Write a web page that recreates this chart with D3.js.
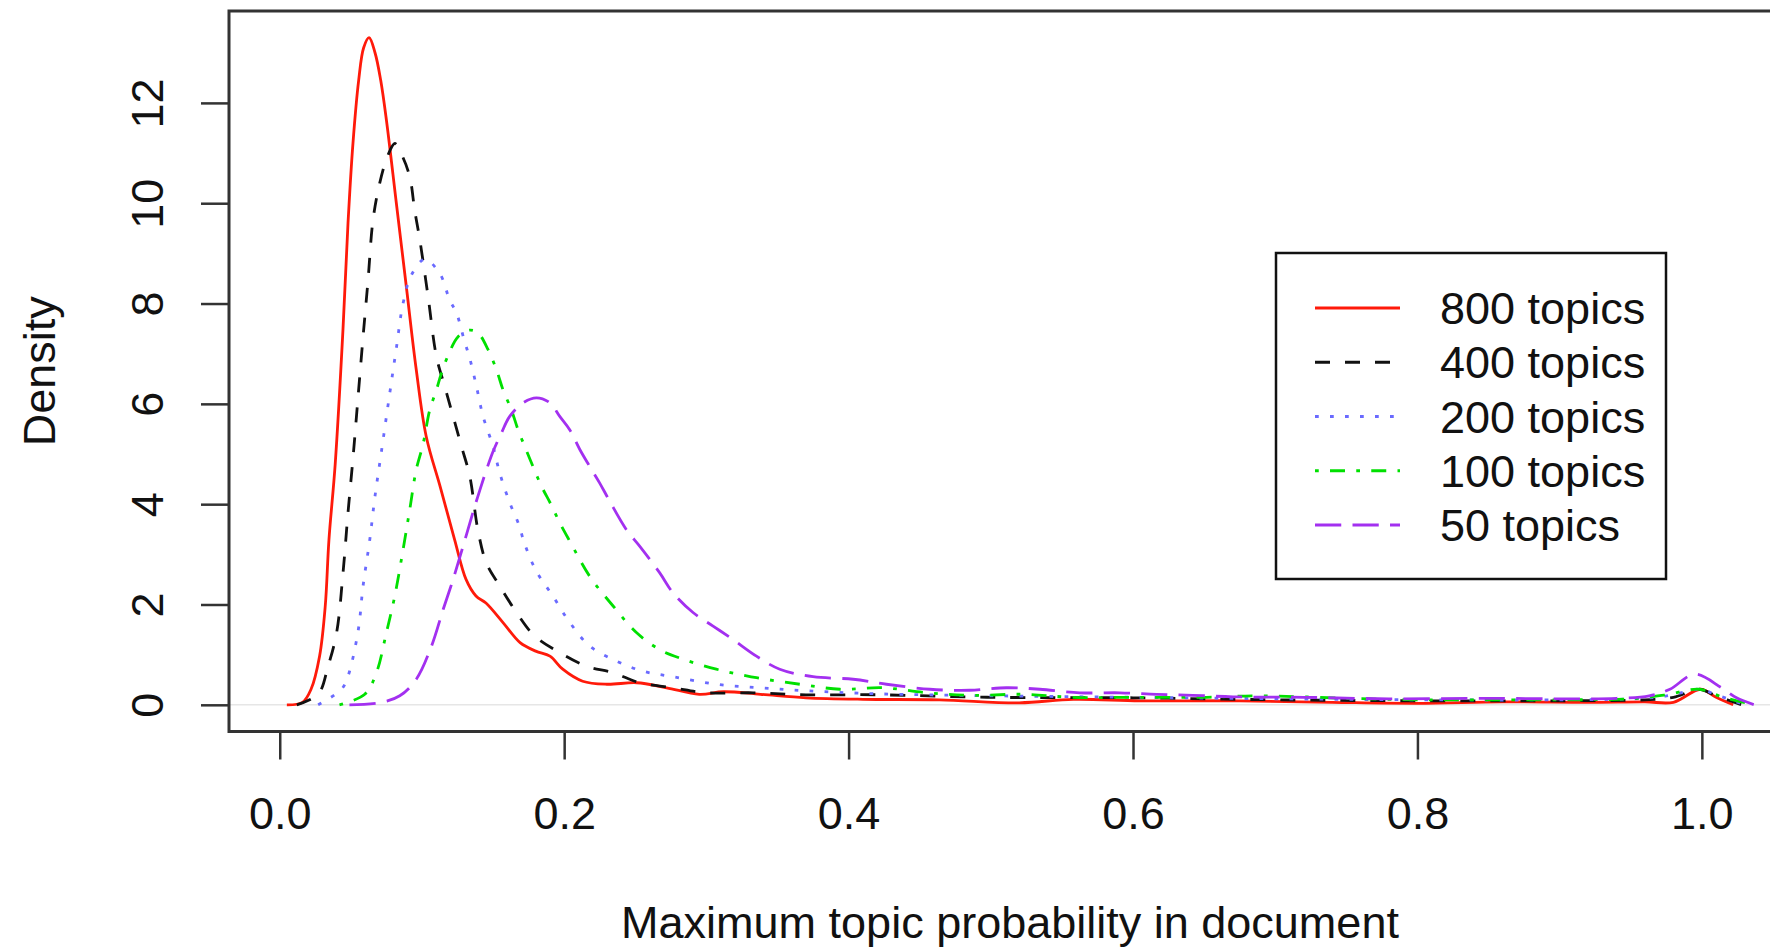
<!DOCTYPE html>
<html lang="en">
<head>
  <meta charset="utf-8">
  <script type="text/javascript" src="https://d3js.org/d3.v7.min.js"></script>
  <style>
    body { margin: 0; background: #fff; }
    svg text { font-family: "Liberation Sans", Arial, sans-serif; fill: #111; }
  </style>
</head>
<body>
  <div class="chart"></div>

<script type="text/javascript">

  // density estimates (x = max topic probability, y = density)
  const x800 = [0.005, 0.016, 0.022, 0.028, 0.032, 0.0346, 0.039, 0.0445, 0.048, 0.0515, 0.0555, 0.059, 0.0628, 0.067, 0.071, 0.075, 0.082, 0.089, 0.096, 0.103, 0.113, 0.123, 0.131, 0.138, 0.145, 0.157, 0.169, 0.18, 0.19, 0.199, 0.213, 0.23, 0.251, 0.272, 0.295, 0.312, 0.338, 0.37, 0.41, 0.464, 0.52, 0.558, 0.605, 0.675, 0.74, 0.8, 0.86, 0.92, 0.96, 0.98, 0.999, 1.01, 1.022];
  const y800 = [0, 0.05, 0.31, 0.97, 1.97, 3.29, 4.8, 7.5, 9.6, 11.2, 12.45, 13.1, 13.3, 13.0, 12.45, 11.66, 10.0, 8.34, 6.68, 5.35, 4.33, 3.29, 2.5, 2.17, 2.03, 1.64, 1.24, 1.07, 0.97, 0.71, 0.47, 0.41, 0.44, 0.34, 0.21, 0.26, 0.21, 0.14, 0.11, 0.1, 0.04, 0.11, 0.08, 0.08, 0.05, 0.03, 0.06, 0.05, 0.06, 0.05, 0.31, 0.15, 0];

  const x400 = [0.012, 0.027, 0.034, 0.04, 0.0445, 0.048, 0.0516, 0.0551, 0.0586, 0.0621, 0.0656, 0.0703, 0.076, 0.0809, 0.086, 0.0914, 0.0949, 0.0985, 0.1043, 0.1102, 0.116, 0.1219, 0.1278, 0.1336, 0.1395, 0.1453, 0.1547, 0.1665, 0.1793, 0.1969, 0.2157, 0.2344, 0.2532, 0.2766, 0.3, 0.333, 0.37, 0.42, 0.5, 0.6, 0.7, 0.8, 0.9, 0.96, 0.98, 0.998, 1.01, 1.028];
  const y400 = [0, 0.21, 0.77, 1.44, 2.63, 3.83, 4.95, 6.15, 7.34, 8.47, 9.67, 10.4, 10.95, 11.19, 10.95, 10.53, 9.86, 9.27, 8.14, 6.94, 6.35, 5.75, 5.15, 4.56, 3.46, 2.83, 2.37, 1.84, 1.37, 1.04, 0.77, 0.64, 0.44, 0.34, 0.24, 0.24, 0.2, 0.2, 0.15, 0.14, 0.1, 0.08, 0.08, 0.1, 0.15, 0.31, 0.18, 0];

  const x200 = [0.027, 0.0434, 0.048, 0.0551, 0.0586, 0.0633, 0.0668, 0.0715, 0.0774, 0.082, 0.0867, 0.0926, 0.102, 0.1125, 0.1195, 0.1243, 0.13, 0.1336, 0.1383, 0.143, 0.15, 0.1547, 0.1617, 0.168, 0.1723, 0.1805, 0.192, 0.204, 0.218, 0.2368, 0.2555, 0.2766, 0.307, 0.338, 0.37, 0.42, 0.5, 0.6, 0.7, 0.8, 0.9, 0.96, 0.98, 0.998, 1.01, 1.03];
  const y200 = [0, 0.31, 0.57, 1.47, 2.37, 3.29, 4.12, 5.05, 6.22, 7.11, 8.0, 8.57, 8.88, 8.6, 8.07, 7.81, 7.24, 6.91, 6.35, 5.75, 5.15, 4.62, 4.03, 3.6, 3.2, 2.66, 2.17, 1.64, 1.17, 0.87, 0.67, 0.56, 0.41, 0.34, 0.28, 0.22, 0.18, 0.15, 0.12, 0.1, 0.1, 0.13, 0.2, 0.31, 0.2, 0];

  const x100 = [0.042, 0.0598, 0.068, 0.075, 0.0809, 0.0867, 0.0914, 0.096, 0.1008, 0.1055, 0.1102, 0.1137, 0.1195, 0.1254, 0.1336, 0.1395, 0.1465, 0.1524, 0.157, 0.1629, 0.1676, 0.1723, 0.1781, 0.184, 0.191, 0.1969, 0.204, 0.218, 0.2344, 0.2508, 0.2672, 0.2836, 0.307, 0.3352, 0.3657, 0.394, 0.4243, 0.4548, 0.4876, 0.5225, 0.5577, 0.6048, 0.6517, 0.6868, 0.75, 0.8, 0.85, 0.9, 0.95, 0.975, 0.998, 1.015, 1.037];
  const y100 = [0, 0.21, 0.64, 1.44, 2.17, 3.09, 3.89, 4.69, 5.2, 5.88, 6.28, 6.61, 7.04, 7.34, 7.47, 7.41, 7.08, 6.68, 6.28, 5.88, 5.48, 5.15, 4.75, 4.36, 3.98, 3.63, 3.26, 2.56, 1.97, 1.44, 1.1, 0.91, 0.71, 0.54, 0.41, 0.31, 0.34, 0.24, 0.19, 0.21, 0.15, 0.15, 0.15, 0.18, 0.13, 0.1, 0.1, 0.1, 0.12, 0.2, 0.31, 0.15, 0];

  const x50 = [0.049, 0.0703, 0.0844, 0.096, 0.1067, 0.1149, 0.1219, 0.1289, 0.136, 0.1406, 0.1453, 0.15, 0.1559, 0.1617, 0.1711, 0.1805, 0.19, 0.1969, 0.204, 0.211, 0.218, 0.225, 0.232, 0.2438, 0.2532, 0.2672, 0.2766, 0.2906, 0.3047, 0.3188, 0.3352, 0.3516, 0.375, 0.4032, 0.4266, 0.4571, 0.4852, 0.511, 0.5345, 0.5626, 0.5907, 0.6165, 0.642, 0.6704, 0.72, 0.78, 0.85, 0.9, 0.94, 0.963, 0.9775, 0.995, 1.0138, 1.0244, 1.037];
  const y50 = [0, 0.04, 0.18, 0.51, 1.17, 1.9, 2.5, 3.16, 3.85, 4.27, 4.68, 5.05, 5.42, 5.75, 6.02, 6.12, 6.02, 5.75, 5.48, 5.09, 4.75, 4.42, 4.06, 3.49, 3.16, 2.63, 2.23, 1.84, 1.57, 1.3, 0.97, 0.71, 0.56, 0.51, 0.41, 0.31, 0.29, 0.34, 0.31, 0.24, 0.24, 0.21, 0.19, 0.16, 0.15, 0.12, 0.13, 0.12, 0.13, 0.18, 0.31, 0.61, 0.34, 0.14, 0];

  const labels = ['800 topics', '400 topics', '200 topics', '100 topics', '50 topics'];
  const colors = ['#ff1a0a', '#111111', '#6a6aff', '#00e000', '#a330f0'];
  const dashes = ['none', '15,15', '3.75,11.25', '3.75,11.25,15,11.25', '26.25,11.25'];
  const xTicks = [0, 0.2, 0.4, 0.6, 0.8, 1.0];
  const yTicks = [0, 2, 4, 6, 8, 10, 12];

  const series = [[x800, y800], [x400, y400], [x200, y200], [x100, y100], [x50, y50]].map((s, i) => ({
    label: labels[i],
    color: colors[i],
    dash: dashes[i],
    points: s[0].map((v, j) => ({ x: v, y: s[1][j] }))
  }));

  const W = 1770, H = 951;
  const box = { left: 229, right: 1791, top: 11, bottom: 731.5 };

  const svg = d3.select('.chart')
    .append('svg')
    .attr('width', W)
    .attr('height', H);

  // R style limits: range of the first density plus 4%
  const xr = d3.extent(x800), yr = [0, d3.max(y800)];
  const xPad = 0.04 * (xr[1] - xr[0]), yPad = 0.04 * (yr[1] - yr[0]);

  const xScale = d3.scaleLinear()
    .domain([xr[0] - xPad, xr[1] + xPad])
    .range([box.left, box.right]);

  const yScale = d3.scaleLinear()
    .domain([yr[0] - yPad, yr[1] + yPad])
    .range([box.bottom, box.top]);

  // zero line
  svg.append('line')
    .attr('x1', box.left).attr('x2', box.right)
    .attr('y1', yScale(0)).attr('y2', yScale(0))
    .attr('stroke', '#e6e6e6')
    .attr('stroke-width', 1.5);

  const line = d3.line()
    .x(d => xScale(d.x))
    .y(d => yScale(d.y))
    .curve(d3.curveCatmullRom.alpha(0.5));

  svg.selectAll('.curve')
    .data(series)
    .enter()
    .append('path')
    .attr('class', 'curve')
    .attr('d', d => line(d.points))
    .attr('fill', 'none')
    .attr('stroke', d => d.color)
    .attr('stroke-width', 2.8)
    .attr('stroke-dasharray', d => d.dash);

  // axes
  const xAxis = d3.axisBottom(xScale)
    .tickValues(xTicks)
    .tickFormat(d3.format('.1f'))
    .tickSize(28)
    .tickPadding(38);

  svg.append('g')
    .attr('class', 'x-axis')
    .attr('transform', `translate(0, ${box.bottom})`)
    .call(xAxis);

  const yAxis = d3.axisLeft(yScale)
    .tickValues(yTicks)
    .tickFormat(d3.format('d'))
    .tickSize(28);

  svg.append('g')
    .attr('class', 'y-axis')
    .attr('transform', `translate(${box.left}, 0)`)
    .call(yAxis);

  svg.selectAll('.x-axis .domain, .y-axis .domain').remove();
  svg.selectAll('.tick line')
    .attr('stroke', '#333')
    .attr('stroke-width', 2.5);
  svg.selectAll('.tick text')
    .style('font-size', '45px')
    .attr('fill', '#111');

  svg.selectAll('.y-axis .tick text')
    .attr('x', null)
    .attr('dy', null)
    .attr('text-anchor', 'middle')
    .attr('transform', 'translate(-66, 0) rotate(-90)');

  // plot box
  svg.append('rect')
    .attr('x', box.left)
    .attr('y', box.top)
    .attr('width', box.right - box.left)
    .attr('height', box.bottom - box.top)
    .attr('fill', 'none')
    .attr('stroke', '#333')
    .attr('stroke-width', 3);

  // axis titles
  svg.append('text')
    .attr('x', (box.left + box.right) / 2)
    .attr('y', 938)
    .attr('text-anchor', 'middle')
    .style('font-size', '45px')
    .text('Maximum topic probability in document');

  svg.append('text')
    .attr('transform', `translate(55, ${(box.top + box.bottom) / 2}) rotate(-90)`)
    .attr('text-anchor', 'middle')
    .style('font-size', '45px')
    .text('Density');

  // legend
  const legend = svg.append('g').attr('class', 'legend');

  legend.append('rect')
    .attr('x', 1276)
    .attr('y', 253)
    .attr('width', 390)
    .attr('height', 326)
    .attr('fill', '#fff')
    .attr('stroke', '#111')
    .attr('stroke-width', 2.5);

  const rows = legend.selectAll('.row')
    .data(series)
    .enter()
    .append('g')
    .attr('class', 'row')
    .attr('transform', (d, i) => `translate(0, ${308 + i * 54.25})`);

  rows.append('line')
    .attr('x1', 1315)
    .attr('x2', 1400)
    .attr('stroke', d => d.color)
    .attr('stroke-width', 2.8)
    .attr('stroke-dasharray', d => d.dash);

  rows.append('text')
    .attr('x', 1440)
    .attr('y', 16)
    .style('font-size', '45px')
    .text(d => d.label);

</script>
</body>
</html>
